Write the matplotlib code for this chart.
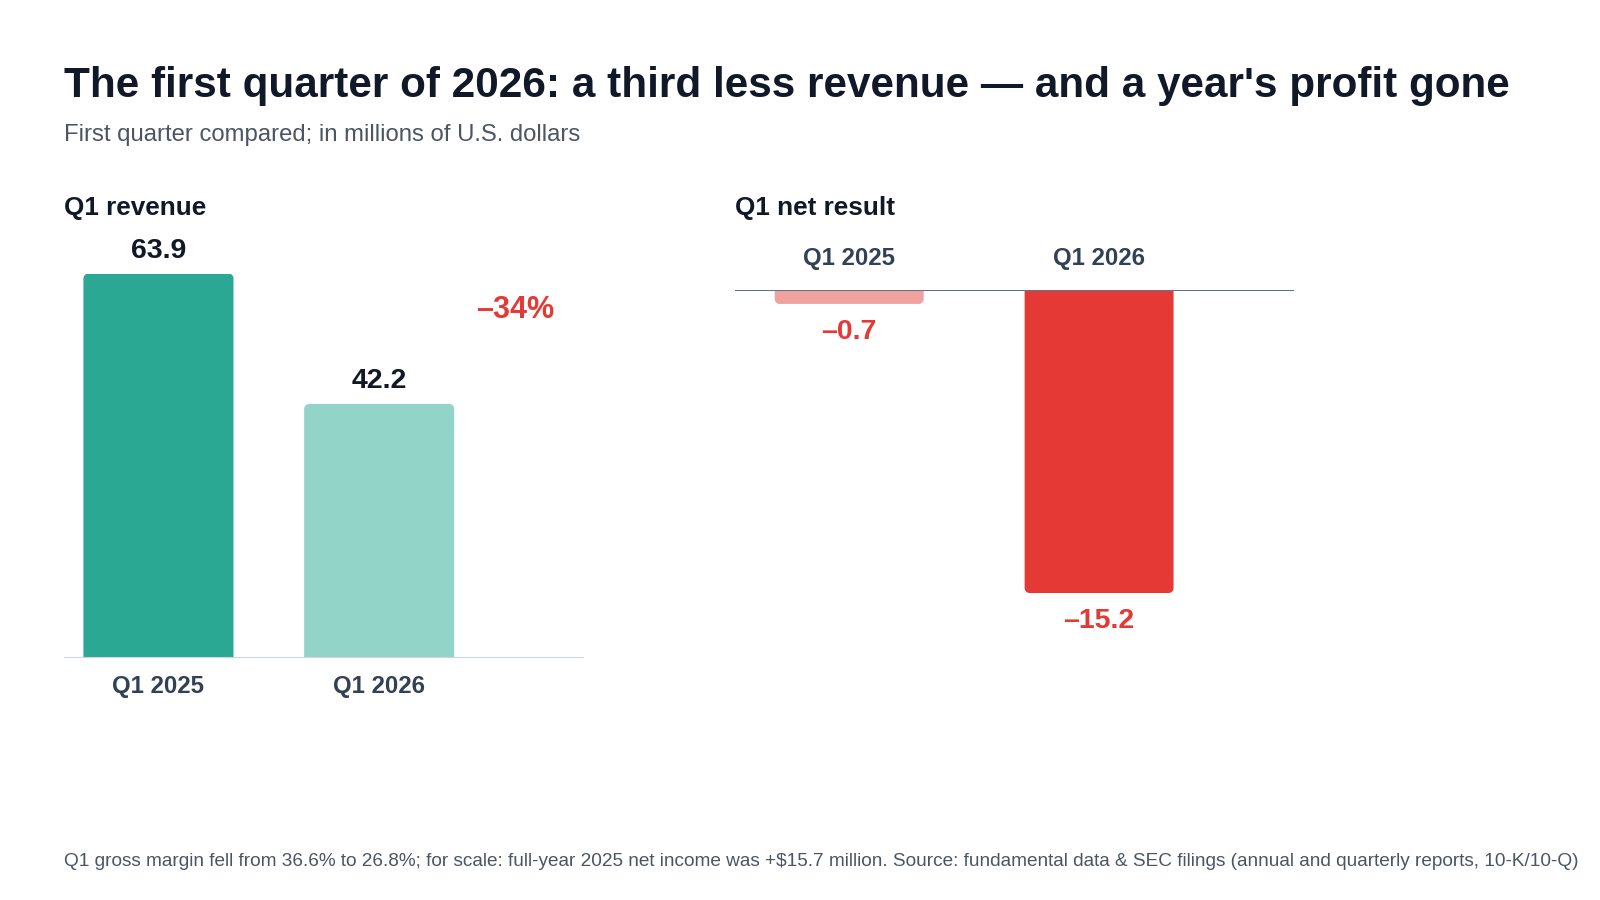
import matplotlib.pyplot as plt
from matplotlib.patches import Polygon
import numpy as np

plt.rcParams['font.family'] = ['Liberation Sans', 'DejaVu Sans']

quarters = ["Q1 2025", "Q1 2026"]
revenue = [63.9, 42.2]
net_result = [-0.7, -15.2]

rev_colors = ["#2aa893", "#92d5c8"]
net_colors = ["#f0a29f", "#e53935"]
dark = "#111827"
label_col = "#334155"
sub_col = "#4b5563"
red = "#e53935"

W, H = 1600, 900
fig = plt.figure(figsize=(16, 9), dpi=100)


def px_axes(x0, y0, x1, y1):
    # pixel box (top-left origin) -> figure axes
    return fig.add_axes([x0 / W, 1 - y1 / H, (x1 - x0) / W, (y1 - y0) / H])


def fmt(v):
    s = f"{abs(v):.1f}"
    return "–" + s if v < 0 else s


def rounded_bar(ax, x, v, width, color, r_px, box):
    # one polygon: square at the baseline, rounded corners at the far end
    x0, y0, x1, y1 = box
    xl, yl = ax.get_xlim(), ax.get_ylim()
    rx = r_px * (xl[1] - xl[0]) / (x1 - x0)
    ry = r_px * (yl[1] - yl[0]) / (y1 - y0)
    s = 1 if v > 0 else -1
    l, r = x - width / 2, x + width / 2
    t = np.linspace(0, np.pi / 2, 10)
    right = [(r - rx + rx * np.cos(a), v - s * ry + s * ry * np.sin(a)) for a in t]
    left = [(l + rx - rx * np.cos(a), v - s * ry + s * ry * np.sin(a)) for a in t[::-1]]
    pts = [(l, 0), (r, 0)] + right + left
    ax.add_patch(Polygon(pts, closed=True, fc=color, ec="none", lw=0, zorder=2))


# ---- left panel: revenue
box1 = (64, 273.5, 584, 657.5)
ax1 = px_axes(*box1)
ax1.set_xlim(-0.428, 1.928)
ax1.set_ylim(0, revenue[0])
for i, v in enumerate(revenue):
    rounded_bar(ax1, i, v, 0.68, rev_colors[i], 5, box1)
    ax1.annotate(fmt(v), (i, v), xytext=(0, 23), textcoords="offset pixels",
                 ha="center", va="center", fontsize=20.5, fontweight="bold",
                 color=dark, annotation_clip=False)
    ax1.annotate(quarters[i], (i, 0), xytext=(0, -29), textcoords="offset pixels",
                 ha="center", va="center", fontsize=17.3, fontweight="bold",
                 color=label_col, annotation_clip=False)
chg = (revenue[1] - revenue[0]) / revenue[0] * 100
ax1.text(1.618, 57.8, f"–{abs(chg):.0f}%", ha="center", va="center",
         fontsize=22, fontweight="bold", color=red)
ax1.axhline(0, color="#cbd5e1", lw=1.5, zorder=3)
ax1.axis("off")

# ---- right panel: net result
box2 = (735, 290, 1294, 593)
ax2 = px_axes(*box2)
ax2.set_xlim(-0.457, 1.78)
ax2.set_ylim(net_result[1], 0)
for i, v in enumerate(net_result):
    rounded_bar(ax2, i, v, 0.596, net_colors[i], 5, box2)
    ax2.annotate(fmt(v), (i, v), xytext=(0, -28), textcoords="offset pixels",
                 ha="center", va="center", fontsize=20.5, fontweight="bold",
                 color=red, annotation_clip=False)
    ax2.annotate(quarters[i], (i, 0), xytext=(0, 32), textcoords="offset pixels",
                 ha="center", va="center", fontsize=17.3, fontweight="bold",
                 color=label_col, annotation_clip=False)
ax2.axhline(0, color="#64748b", lw=1.5, zorder=3)
ax2.axis("off")

# ---- texts
fig.text(64 / W, 1 - 86 / H, "The first quarter of 2026: a third less revenue — and a year's profit gone",
         ha="left", va="center", fontsize=30.4, fontweight="bold", color=dark)
fig.text(64 / W, 1 - 135 / H, "First quarter compared; in millions of U.S. dollars",
         ha="left", va="center", fontsize=17.2, color=sub_col)
fig.text(64 / W, 1 - 208 / H, "Q1 revenue", ha="left", va="center",
         fontsize=18.8, fontweight="bold", color=dark)
fig.text(735 / W, 1 - 208 / H, "Q1 net result", ha="left", va="center",
         fontsize=18.8, fontweight="bold", color=dark)
fig.text(64 / W, 1 - 861 / H,
         "Q1 gross margin fell from 36.6% to 26.8%; for scale: full-year 2025 net income was +$15.7 million. "
         "Source: fundamental data & SEC filings (annual and quarterly reports, 10-K/10-Q)",
         ha="left", va="center", fontsize=13.7, color=sub_col)

fig.savefig("out.png", dpi=100, facecolor="white")
